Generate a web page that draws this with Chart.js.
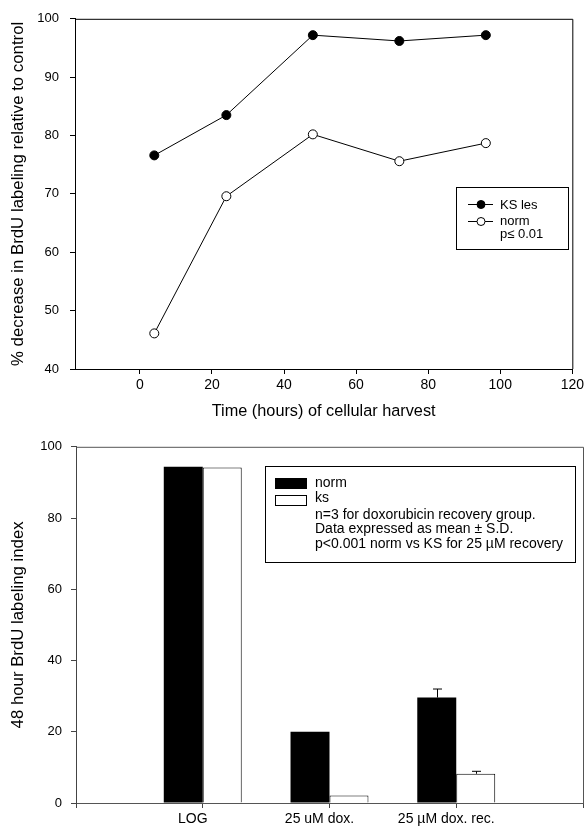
<!DOCTYPE html>
<html><head><meta charset="utf-8">
<script src="https://cdn.jsdelivr.net/npm/chart.js@4"></script>
<style>
html,body{margin:0;padding:0;background:#fff;}
#w1{position:absolute;left:0;top:0;width:587px;height:430px;}
#w2{position:absolute;left:0;top:430px;width:587px;height:397px;}
</style></head><body>
<div id="w1"><canvas id="c1"></canvas></div>
<div id="w2"><canvas id="c2"></canvas></div>
<script>
// ---- Top chart data ----
const hours = [4, 24, 48, 72, 96];
const ksLes = [76.6, 83.5, 97.2, 96.2, 97.2];
const normLine = [46.1, 69.6, 80.2, 75.6, 78.7];
const xTicks = [0, 20, 40, 60, 80, 100, 120];

// ---- Bottom chart data ----
const groups = ['', 'LOG', '25 uM dox.', '25 µM dox. rec.', ''];
const normBars = [null, 94.4, 20.0, 29.6, null];
const ksBars = [null, 94.2, 2.1, 8.2, null];
const normSD = [null, 0, 0, 2.4, null];
const ksSD = [null, 0, 0, 0.7, null];

const FONT = "'Liberation Sans', Arial, Helvetica, sans-serif";
Chart.defaults.font.family = FONT;
Chart.defaults.color = '#000';

const framePlugin = {
  id: 'frame',
  afterDraw(chart, args, opts) {
    const {ctx, chartArea: a} = chart;
    ctx.save();
    ctx.strokeStyle = opts.color || '#000';
    ctx.lineWidth = 1;
    ctx.beginPath();
    ctx.moveTo(a.left, a.top + 0.5);
    ctx.lineTo(a.right + 0.5, a.top + 0.5);
    ctx.lineTo(a.right + 0.5, a.bottom);
    ctx.stroke();
    ctx.restore();
  }
};

const legend1 = {
  id: 'legend1',
  afterDraw(chart) {
    const ctx = chart.ctx;
    ctx.save();
    ctx.strokeStyle = '#000';
    ctx.lineWidth = 1;
    ctx.strokeRect(456.5, 187.5, 112, 62);
    const rows = [
      {y: 204, fill: '#000', label: 'KS les', base: 208.5},
      {y: 221, fill: '#fff', label: 'norm', base: 224.5}
    ];
    ctx.font = '13px ' + FONT;
    ctx.fillStyle = '#000';
    ctx.textBaseline = 'alphabetic';
    rows.forEach(r => {
      ctx.beginPath();
      ctx.moveTo(468, r.y + 0.5); ctx.lineTo(493, r.y + 0.5); ctx.stroke();
      ctx.beginPath();
      ctx.arc(481, r.y + 0.5, 4, 0, Math.PI * 2);
      ctx.fillStyle = r.fill; ctx.fill(); ctx.stroke();
      ctx.fillStyle = '#000';
      ctx.fillText(r.label, 500, r.base);
    });
    ctx.fillText('p\u2264 0.01', 500, 237.5);
    ctx.restore();
  }
};

new Chart(document.getElementById('c1'), {
  type: 'scatter',
  data: {
    datasets: [
      {label: 'KS les', data: hours.map((h, i) => ({x: h, y: ksLes[i]})), showLine: true,
       borderColor: '#000', borderWidth: 1, pointRadius: 4.5, pointBackgroundColor: '#000',
       pointBorderColor: '#000', pointBorderWidth: 1},
      {label: 'norm', data: hours.map((h, i) => ({x: h, y: normLine[i]})), showLine: true,
       borderColor: '#000', borderWidth: 1, pointRadius: 4.5, pointBackgroundColor: '#fff',
       pointBorderColor: '#000', pointBorderWidth: 1}
    ]
  },
  options: {
    responsive: true, maintainAspectRatio: false, animation: false,
    layout: {padding: {left: 0, right: 12, top: 18, bottom: 0}},
    plugins: {legend: {display: false}, tooltip: {enabled: false}, frame: {color: '#000'}},
    scales: {
      x: {
        type: 'linear', min: -18, max: 120,
        afterBuildTicks: s => { s.ticks = xTicks.map(v => ({value: v})); },
        afterFit: s => { s.height = 61; },
        grid: {drawOnChartArea: false, drawTicks: true, tickLength: 5, color: '#000'},
        border: {display: true, color: '#000', width: 1},
        ticks: {font: {size: 14}, padding: 3, color: '#000', maxRotation: 0},
        title: {display: true, text: 'Time (hours) of cellular harvest', font: {size: 16.3},
                padding: {top: 0, bottom: 9}, color: '#000'}
      },
      y: {
        min: 40, max: 100,
        afterFit: s => { s.width = 75; },
        grid: {drawOnChartArea: false, drawTicks: true, tickLength: 5, color: '#000'},
        border: {display: true, color: '#000', width: 1},
        ticks: {stepSize: 10, font: {size: 13}, padding: 11, color: '#000'},
        title: {display: true, text: '% decrease in BrdU labeling relative to control',
                font: {size: 16.8}, padding: {top: 8, bottom: 0}, color: '#000'}
      }
    }
  },
  plugins: [framePlugin, legend1]
});

const errorBars = {
  id: 'errorBars',
  afterDatasetsDraw(chart) {
    const ctx = chart.ctx;
    const yScale = chart.scales.y;
    const sds = [normSD, ksSD];
    const vals = [normBars, ksBars];
    ctx.save();
    ctx.strokeStyle = '#000';
    ctx.lineWidth = 1;
    sds.forEach((sd, di) => {
      const meta = chart.getDatasetMeta(di);
      sd.forEach((s, j) => {
        if (!s || vals[di][j] == null) return;
        const bar = meta.data[j];
        const x = Math.round(bar.x) + 0.5;
        const yTop = yScale.getPixelForValue(vals[di][j] + s);
        const yB = yScale.getPixelForValue(vals[di][j]);
        ctx.beginPath();
        ctx.moveTo(x, yB); ctx.lineTo(x, yTop);
        ctx.moveTo(x - 4.5, yTop); ctx.lineTo(x + 4.5, yTop);
        ctx.stroke();
      });
    });
    ctx.restore();
  }
};

const legend2 = {
  id: 'legend2',
  afterDraw(chart) {
    const ctx = chart.ctx;
    ctx.save();
    ctx.strokeStyle = '#000';
    ctx.lineWidth = 1;
    ctx.strokeRect(265.5, 36.5, 310, 96);
    ctx.fillStyle = '#000';
    ctx.fillRect(275, 48, 32, 11);
    ctx.strokeRect(275.5, 65.5, 31, 10);
    ctx.font = '14px ' + FONT;
    ctx.textBaseline = 'alphabetic';
    const lines = [
      ['norm', 56.7],
      ['ks', 72.3],
      ['n=3 for doxorubicin recovery group.', 89],
      ['Data expressed as mean \u00B1 S.D.', 102.5],
      ['p<0.001 norm vs KS for 25 \u00B5M recovery', 117.5]
    ];
    lines.forEach(([t, y]) => ctx.fillText(t, 315, y));
    ctx.restore();
  }
};

new Chart(document.getElementById('c2'), {
  type: 'bar',
  data: {
    labels: groups,
    datasets: [
      {label: 'norm', data: normBars, backgroundColor: '#000', borderColor: '#000', borderWidth: 0},
      {label: 'ks', data: ksBars, backgroundColor: '#fff', borderColor: '#000', borderWidth: 1}
    ]
  },
  options: {
    responsive: true, maintainAspectRatio: false, animation: false,
    layout: {padding: {left: 0, right: 4, top: 15, bottom: 0}},
    datasets: {bar: {categoryPercentage: 0.615, barPercentage: 1}},
    plugins: {legend: {display: false}, tooltip: {enabled: false}, frame: {color: '#555'}},
    scales: {
      x: {
        offset: false,
        afterFit: s => { s.height = 24; },
        grid: {drawOnChartArea: false, drawTicks: true, tickLength: 5, color: '#444', offset: false},
        border: {display: true, color: '#555', width: 1},
        ticks: {font: {size: 14}, padding: 3, labelOffset: -10, autoSkip: false, maxRotation: 0, color: '#000'}
      },
      y: {
        min: 0, max: 100,
        afterFit: s => { s.width = 76; },
        grid: {drawOnChartArea: false, drawTicks: true, tickLength: 5, color: '#444'},
        border: {display: true, color: '#444', width: 1},
        ticks: {stepSize: 20, font: {size: 13}, padding: 9, color: '#000'},
        title: {display: true, text: '48 hour BrdU labeling index', font: {size: 16.8},
                padding: {top: 8, bottom: 0}, color: '#000'}
      }
    }
  },
  plugins: [framePlugin, errorBars, legend2]
});
</script>
</body></html>
